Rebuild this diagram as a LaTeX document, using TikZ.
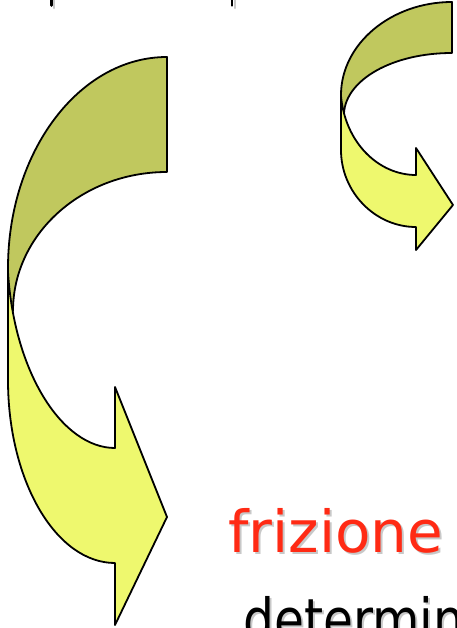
\documentclass[tikz,border=0pt]{standalone}
\usepackage{fontspec}
\setmainfont{DejaVu Sans}
\usepackage{xcolor}
\usepackage{tikz}
\definecolor{bandolive}{HTML}{C0C85E}
\definecolor{bandyellow}{HTML}{EEF86E}
\definecolor{wordred}{HTML}{FF2A14}
\definecolor{shadowgray}{HTML}{C8C8C8}
\tikzset{
  band/.style={draw=black,line width=1.8pt,line join=round},
  back/.style={band,fill=bandolive},
  front/.style={band,fill=bandyellow},
  word/.style={font=\fontsize{58}{62}\selectfont,inner sep=0pt,anchor=base west},
  wordshadow/.style={word,text=shadowgray},
  stub/.style={line width=2.6pt,line cap=round}
}
\newcommand{\narrowword}[1]{\scalebox{0.84}[1]{#1}}
\begin{document}
\begin{tikzpicture}[x=1pt,y=-1pt]
  \useasboundingbox (0,0) rectangle (456,628);
  \clip (0,0) rectangle (456,628);
  % ends of the line above
  \draw[stub,shadowgray] (54,-3)--(54,8);
  \draw[stub] (51.5,-3)--(51.5,5.5);
  \draw[stub,shadowgray] (235,-3)--(235,8);
  \draw[stub] (232,-3)--(232,5.5);
  % big curved arrow
  \draw[back] (167,57) .. controls (79,57) and (8,152) .. (8,268) -- (8,300) -- (13,311)
    .. controls (13,234) and (82,172) .. (167,172) -- cycle;
  \draw[front] (8,272) -- (8,380) .. controls (8,481) and (56,563) .. (115,563)
    -- (115,625) -- (167,517) -- (115,387) -- (115,448)
    .. controls (62,448) and (14,372) .. (8,272) -- cycle;
  % small curved arrow
  \draw[back] (452,2) .. controls (391,2) and (341,44) .. (341,95) -- (341,105) -- (344,113)
    .. controls (346,80) and (392,53) .. (452,53) -- cycle;
  \draw[front] (341,96) -- (341,150) .. controls (341,192) and (375,227) .. (416,227)
    -- (416,250) -- (453,205) -- (416,148) -- (416,175)
    .. controls (378,175) and (345,142) .. (341,96) -- cycle;
  % words
  \node[wordshadow] (frizshadow) at (230,554) {frizione};
  \node[word,text=wordred] (friz) at (228,552) {frizione};
  \node[wordshadow] (detshadow) at (245,642) {\narrowword{determin}};
  \node[word] (det) at (243,640) {\narrowword{determin}};
\end{tikzpicture}
\end{document}
